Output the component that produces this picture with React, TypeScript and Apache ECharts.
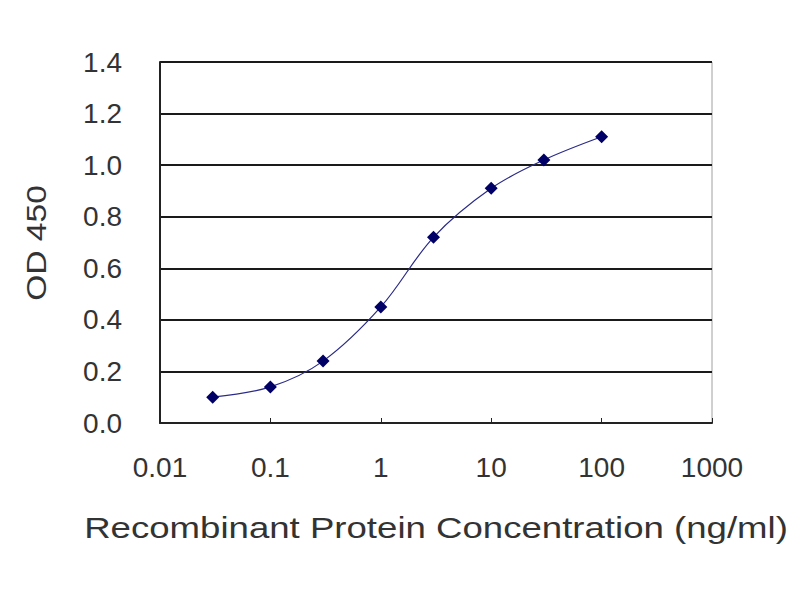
import { useEffect, useRef } from "react";
import * as echarts from "echarts";

const concentrations = [0.03, 0.1, 0.3, 1, 3, 10, 30, 100];
const odValues = [0.1, 0.14, 0.24, 0.45, 0.72, 0.91, 1.02, 1.11];
const xTickLabels = ["0.01", "0.1", "1", "10", "100", "1000"];
const xTitle = "Recombinant Protein Concentration (ng/ml)";
const yTitle = "OD 450";

const FONT = "'Liberation Sans', Arial, sans-serif";

function formatLog(v: number): string {
  const exp = Math.round(Math.log10(v));
  return xTickLabels[exp + 2] ?? String(v);
}

export default function App() {
  const ref = useRef<HTMLDivElement>(null);

  useEffect(() => {
    if (!ref.current) return;
    const chart = echarts.init(ref.current, null, { renderer: "svg" });

    chart.setOption({
      animation: false,
      backgroundColor: "#ffffff",
      grid: {
        left: 160,
        right: 88,
        top: 62,
        bottom: 177,
        show: true,
        borderColor: "#a0a0a0",
        borderWidth: 1,
        backgroundColor: "transparent",
      },
      // axis titles: the reference renders them horizontally stretched
      graphic: [
        {
          type: "text",
          x: 436,
          y: 528,
          scaleX: 1.22,
          style: {
            text: xTitle,
            fontFamily: FONT,
            fontSize: 30,
            fill: "#333",
            align: "center",
            verticalAlign: "middle",
          },
        },
        {
          type: "text",
          x: 36,
          y: 243,
          rotation: Math.PI / 2,
          scaleX: 1.2,
          style: {
            text: yTitle,
            fontFamily: FONT,
            fontSize: 28,
            fill: "#333",
            align: "center",
            verticalAlign: "middle",
          },
        },
      ],
      xAxis: {
        type: "log",
        logBase: 10,
        min: 0.01,
        max: 1000,
        axisLine: { lineStyle: { color: "#222", width: 2 } },
        axisTick: { inside: true, length: 5, lineStyle: { color: "#222" } },
        minorTick: { show: false },
        splitLine: { show: false },
        axisLabel: {
          fontFamily: FONT,
          fontSize: 28,
          color: "#333",
          margin: 30,
          formatter: (v: number) => formatLog(v),
        },
      },
      yAxis: {
        type: "value",
        min: 0,
        max: 1.4,
        interval: 0.2,
        axisLine: { show: true, lineStyle: { color: "#222", width: 2 } },
        axisTick: { show: false },
        splitLine: { show: true, lineStyle: { color: "#1a1a1a", width: 2 } },
        axisLabel: {
          fontFamily: FONT,
          fontSize: 28,
          color: "#333",
          margin: 38,
          formatter: (v: number) => v.toFixed(1),
        },
      },
      series: [
        {
          type: "line",
          data: concentrations.map((c, i) => [c, odValues[i]]),
          smooth: 0.35,
          symbol: "diamond",
          symbolSize: 13,
          itemStyle: { color: "#000066" },
          lineStyle: { color: "#2a2a88", width: 1.2 },
        },
      ],
    });

    return () => chart.dispose();
  }, []);

  return (
    <div
      ref={ref}
      style={{ position: "fixed", left: 0, top: 0, width: 800, height: 600 }}
    />
  );
}
